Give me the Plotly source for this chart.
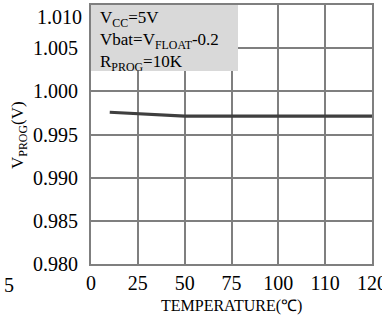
import numpy as np
import plotly.graph_objects as go

# Tick labels of the (non-linear) temperature axis
x_ticks = [0, 25, 50, 75, 100, 110, 120]
y_ticks = [0.980, 0.985, 0.990, 0.995, 1.000, 1.005, 1.010]
y_tick_text = ["0.980", "0.985", "0.990", "0.995", "1.000", "1.005", "1.010"]

# Measured curve
temperature = [10, 25, 50, 75, 100, 110, 120]
v_prog = [0.99758, 0.99744, 0.99712, 0.99712, 0.99712, 0.99712, 0.99712]

# map temperatures onto the evenly spaced tick positions of the axis
tick_pos = list(range(len(x_ticks)))
x_pos = np.interp(temperature, x_ticks, tick_pos)

serif = "Liberation Serif, Times New Roman, serif"
grid = "#7f7f7f"

fig = go.Figure()
fig.add_trace(go.Scatter(x=x_pos, y=v_prog, mode="lines",
                         line=dict(color="#3f3f3f", width=3.2),
                         showlegend=False, hoverinfo="skip"))

L, R, T, B = 91, 10, 5, 58
W, H = 382, 322
pw, ph = W - L - R, H - T - B

fig.update_layout(
    width=W, height=H,
    margin=dict(l=L, r=R, t=T, b=B, autoexpand=False),
    paper_bgcolor="white", plot_bgcolor="white",
    font=dict(family=serif, color="black"),
    xaxis=dict(range=[tick_pos[0], tick_pos[-1]], tickmode="array",
               tickvals=tick_pos, ticktext=[str(t) for t in x_ticks],
               showgrid=True, gridcolor=grid, gridwidth=1.6,
               showline=True, linecolor=grid, linewidth=2, mirror=True,
               ticks="", ticklabeloverflow="allow",
               tickfont=dict(size=20, family=serif), zeroline=False),
    yaxis=dict(range=[y_ticks[0], y_ticks[-1]], tickmode="array",
               tickvals=y_ticks[:-1], ticktext=y_tick_text[:-1],
               showgrid=True, gridcolor=grid, gridwidth=1.6,
               showline=True, linecolor=grid, linewidth=2, mirror=True,
               ticks="", ticklabelstandoff=7, ticklabeloverflow="allow",
               tickfont=dict(size=20, family=serif), zeroline=False),
)

# top tick label, drawn slightly below its gridline as in the original
fig.add_annotation(xref="paper", yref="y", x=0, y=y_ticks[-1], yshift=-12,
                   xanchor="right", yanchor="middle", xshift=-7, showarrow=False,
                   text=y_tick_text[-1], font=dict(size=20, family=serif))

# condition box
fig.add_shape(type="rect", xref="paper", yref="paper",
              x0=0, x1=(238 - L) / pw, y0=1 - (71 - T) / ph, y1=1,
              fillcolor="#d9d9d9", line=dict(width=0), layer="above")
fig.add_annotation(xref="paper", yref="paper", x=(98 - L) / pw, y=1 - (6 - T) / ph,
                   xanchor="left", yanchor="top", align="left", showarrow=False,
                   text="V<sub>CC</sub>=5V<br>Vbat=V<sub>FLOAT</sub>-0.2<br>R<sub>PROG</sub>=10K",
                   font=dict(size=17, family=serif, color="black"))

# axis titles
fig.add_annotation(xref="paper", yref="paper", x=(19 - L) / pw, y=1 - (135 - T) / ph,
                   xanchor="center", yanchor="middle", textangle=-90, showarrow=False,
                   text="V<sub>PROG</sub>(V)", font=dict(size=17, family=serif))
fig.add_annotation(xref="paper", yref="paper", x=0.5, y=1 - (306 - T) / ph,
                   xanchor="center", yanchor="middle", showarrow=False,
                   text="TEMPERATURE(℃)", font=dict(size=16, family=serif))
# stray clipped tick label at left edge
fig.add_annotation(xref="paper", yref="paper", x=(9 - L) / pw, y=1 - (285 - T) / ph,
                   xanchor="center", yanchor="middle", showarrow=False,
                   text="5", font=dict(size=20, family=serif))

fig.write_html("out.html", config={"displayModeBar": False})

# remove the default page margin so the figure sits at the window's corner
with open("out.html", encoding="utf-8") as f:
    html = f.read()
html = html.replace("<body>", '<body style="margin:0;overflow:hidden">', 1)
with open("out.html", "w", encoding="utf-8") as f:
    f.write(html)
